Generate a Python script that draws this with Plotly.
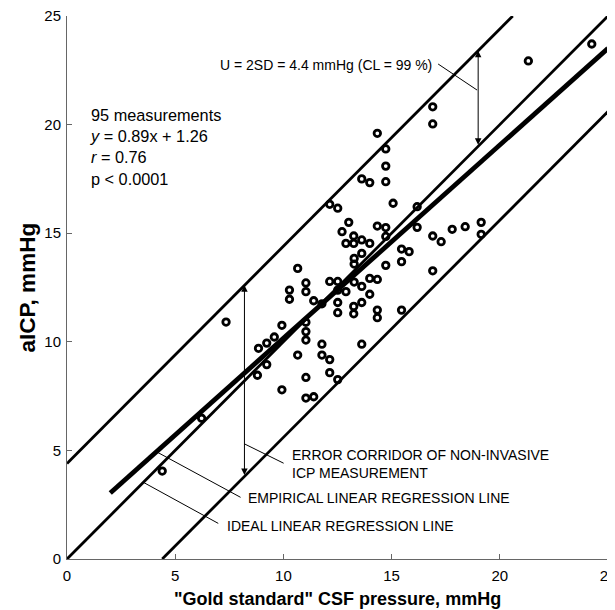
import plotly.graph_objects as go

# ---- data ----
gold_csf = [24.25, 21.32, 16.90, 16.90, 14.34, 14.73, 14.73, 13.62, 13.99, 14.73,
            15.07, 12.14, 12.51, 16.18, 13.02, 14.34, 14.73, 16.18, 12.71, 13.25,
            13.62, 12.89, 13.25, 13.99, 14.73, 16.90, 17.29, 17.80, 18.40, 19.14,
            19.14, 15.46, 15.81, 13.62, 13.27, 13.27, 14.73, 15.46, 16.90, 10.66,
            12.14, 12.51, 13.27, 13.62, 13.99, 14.34, 11.04, 10.28, 11.04, 12.89,
            13.99, 10.28, 11.40, 11.78, 12.51, 12.51, 13.25, 13.62, 13.25, 14.34,
            14.34, 15.46, 7.35, 9.93, 11.04, 11.04, 11.04, 9.58, 9.23, 8.85,
            11.78, 13.62, 10.66, 11.78, 12.14, 9.23, 8.80, 12.14, 11.04, 12.51,
            9.93, 11.04, 11.40, 6.22, 4.40, 12.51]
aicp = [23.71, 22.93, 20.82, 20.03, 19.60, 18.88, 18.09, 17.50, 17.33, 17.37,
        16.38, 16.33, 16.15, 16.22, 15.50, 15.33, 15.26, 15.27, 15.07, 14.87,
        14.69, 14.53, 14.53, 14.53, 14.85, 14.87, 14.61, 15.18, 15.30, 15.50,
        14.95, 14.27, 14.15, 14.07, 13.84, 13.58, 13.52, 13.69, 13.27, 13.38,
        12.78, 12.78, 12.75, 12.55, 12.92, 12.87, 12.71, 12.38, 12.31, 12.31,
        12.19, 11.96, 11.89, 11.75, 11.81, 11.34, 11.63, 11.81, 11.29, 11.46,
        11.11, 11.46, 10.91, 10.76, 10.90, 10.47, 10.08, 10.22, 9.94, 9.70,
        9.89, 9.89, 9.39, 9.39, 9.18, 8.95, 8.46, 8.58, 8.36, 8.26,
        7.79, 7.41, 7.47, 6.48, 4.05, 12.38]

slope = 0.89
intercept = 1.26
U = 4.4                      # error corridor half-width (mmHg)
x_min, x_max = 0, 25
y_min, y_max = 0, 25
reg_x_start = 2.0
arrow_left_x = 8.2
arrow_top_x = 19.0

x_ticks = [0, 5, 10, 15, 20, 25]
y_ticks = [0, 5, 10, 15, 20, 25]

stats_lines = ["95 measurements", "<i>y</i> = 0.89x + 1.26", "<i>r</i> = 0.76", "p < 0.0001"]

FONT = "Liberation Sans, Arial, sans-serif"

fig = go.Figure()

# upper corridor line y = x + U (clipped at y_max)
fig.add_trace(go.Scatter(x=[x_min, y_max - U], y=[x_min + U, y_max], mode="lines",
                         line=dict(color="black", width=2.8), hoverinfo="skip"))
# ideal line y = x
fig.add_trace(go.Scatter(x=[x_min, x_max], y=[x_min, x_max], mode="lines",
                         line=dict(color="black", width=2.8), hoverinfo="skip"))
# lower corridor line y = x - U
fig.add_trace(go.Scatter(x=[y_min + U, x_max], y=[y_min, x_max - U], mode="lines",
                         line=dict(color="black", width=2.8), hoverinfo="skip"))
# empirical regression line
fig.add_trace(go.Scatter(x=[reg_x_start, x_max],
                         y=[slope * reg_x_start + intercept, slope * x_max + intercept],
                         mode="lines", line=dict(color="black", width=4.8), hoverinfo="skip"))
# measurements
fig.add_trace(go.Scatter(x=gold_csf, y=aicp, mode="markers",
                         marker=dict(symbol="circle-open", size=6.5, color="black",
                                     line=dict(color="black", width=2.8))))

ann = []
# double arrows of the corridor
for ax_x, y_lo, y_hi in [(arrow_left_x, arrow_left_x - U, arrow_left_x + U),
                         (arrow_top_x, arrow_top_x, arrow_top_x + U)]:
    ann.append(dict(x=ax_x, y=y_hi, ax=ax_x, ay=y_lo, xref="x", yref="y", axref="x", ayref="y",
                    text="", showarrow=True, arrowhead=2, arrowside="end+start",
                    arrowsize=1.3, arrowwidth=1, arrowcolor="black", standoff=0, startstandoff=0))

txt_font = dict(family=FONT, size=14, color="black")
ann.append(dict(x=16.95, y=22.74, xref="x", yref="y", text="U = 2SD = 4.4 mmHg (CL = 99 %)",
                showarrow=False, xanchor="right", yanchor="middle", font=txt_font))
ann.append(dict(x=10.3, y=4.37, xref="x", yref="y",
                text="ERROR CORRIDOR OF NON-INVASIVE<br>ICP MEASUREMENT",
                showarrow=False, xanchor="left", yanchor="middle", align="left", font=txt_font))
ann.append(dict(x=8.27, y=2.81, xref="x", yref="y", text="EMPIRICAL LINEAR REGRESSION LINE",
                showarrow=False, xanchor="left", yanchor="middle", font=txt_font))
ann.append(dict(x=7.3, y=1.53, xref="x", yref="y", text="IDEAL LINEAR REGRESSION LINE",
                showarrow=False, xanchor="left", yanchor="middle", font=txt_font))
ann.append(dict(x=0.95, y=18.95, xref="x", yref="y", text="<br>".join(stats_lines),
                showarrow=False, xanchor="left", yanchor="middle", align="left",
                font=dict(family=FONT, size=16.3, color="black")))
# axis titles
ann.append(dict(x=0.5, y=0, xref="paper", yref="paper", yshift=-40,
                text="<b>\"Gold standard\" CSF pressure, mmHg</b>", showarrow=False,
                xanchor="center", yanchor="middle", font=dict(family=FONT, size=18, color="black")))
ann.append(dict(x=0, y=0.5, xref="paper", yref="paper", xshift=-40,
                text="<b>aICP, mmHg</b>", showarrow=False, textangle=-90,
                xanchor="center", yanchor="middle", font=dict(family=FONT, size=22.5, color="black")))

# leader lines
leaders = [((17.15, 22.79), (18.95, 21.59)),
           ((10.01, 4.41), (8.2, 5.3)),
           ((8.02, 2.84), (4.13, 4.94)),
           ((6.99, 1.64), (3.53, 3.53))]
shapes = [dict(type="line", xref="x", yref="y", x0=a[0], y0=a[1], x1=b[0], y1=b[1],
               line=dict(color="black", width=1)) for a, b in leaders]

axis_common = dict(showgrid=False, zeroline=False, showline=True, linecolor="#666666",
                   linewidth=1, ticks="inside", ticklen=5, tickcolor="#666666",
                   tickfont=dict(family=FONT, size=15, color="black"), mirror=False,
                   automargin=False, ticklabeloverflow="allow")

# page body has an 8px margin: figure is 607x602 so that it fills the 615x610 window
fig.update_layout(
    width=607, height=602,
    margin=dict(l=58.5, r=7, t=8, b=51, pad=0, autoexpand=False),
    plot_bgcolor="white", paper_bgcolor="white",
    showlegend=False,
    annotations=ann, shapes=shapes,
    xaxis=dict(range=[x_min, x_max], tickvals=x_ticks, ticklabelstandoff=3, **axis_common),
    yaxis=dict(range=[y_min, y_max], tickvals=y_ticks, ticklabelstandoff=2, **axis_common),
)

fig.write_html("out.html")
